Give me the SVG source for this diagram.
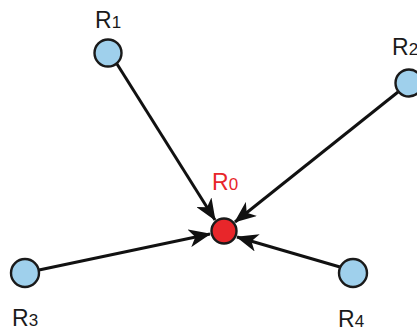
<svg xmlns="http://www.w3.org/2000/svg" width="417" height="331" viewBox="0 0 417 331">
<style>
.sat{fill:#9fd0ec;stroke:#1a1a1a;stroke-width:2.4}
.base{fill:#e8262a;stroke:#1a1a1a;stroke-width:2.4}
.lbl{font-family:"Liberation Sans",Arial,sans-serif;font-size:23px;fill:#1a1a1a}
.sub{font-size:17px}
.red{fill:#e8262a}
.conn{stroke:#111;stroke-width:3;fill:none;marker-end:url(#ah)}
</style>
<defs>
<marker id="ah" markerUnits="userSpaceOnUse" markerWidth="22" markerHeight="18" refX="21" refY="9" orient="auto" viewBox="0 0 22 18">
<path d="M0,0 L22,9 L0,18 L6,9 Z" fill="#111"/>
</marker>
</defs>
<rect width="417" height="331" fill="#fff"/>
<g id="connectors">
<line class="conn" x1="117" y1="64" x2="215" y2="220"/>
<line class="conn" x1="398" y1="92" x2="235" y2="222"/>
<line class="conn" x1="39" y1="270" x2="210" y2="234"/>
<line class="conn" x1="340" y1="267" x2="237" y2="237"/>
</g>
<g id="R0">
<circle class="base" cx="224" cy="231" r="12.5"/>
<text class="lbl red" x="212" y="190">R<tspan class="sub">0</tspan></text>
</g>
<g id="R1">
<circle class="sat" cx="108" cy="53" r="13.5"/>
<text class="lbl" x="95" y="28">R<tspan class="sub">1</tspan></text>
</g>
<g id="R2">
<circle class="sat" cx="409" cy="83" r="13.5"/>
<text class="lbl" x="392" y="55">R<tspan class="sub">2</tspan></text>
</g>
<g id="R3">
<circle class="sat" cx="25" cy="273" r="14"/>
<text class="lbl" x="12" y="326">R<tspan class="sub">3</tspan></text>
</g>
<g id="R4">
<circle class="sat" cx="353" cy="273" r="14"/>
<text class="lbl" x="338" y="327">R<tspan class="sub">4</tspan></text>
</g>
</svg>
